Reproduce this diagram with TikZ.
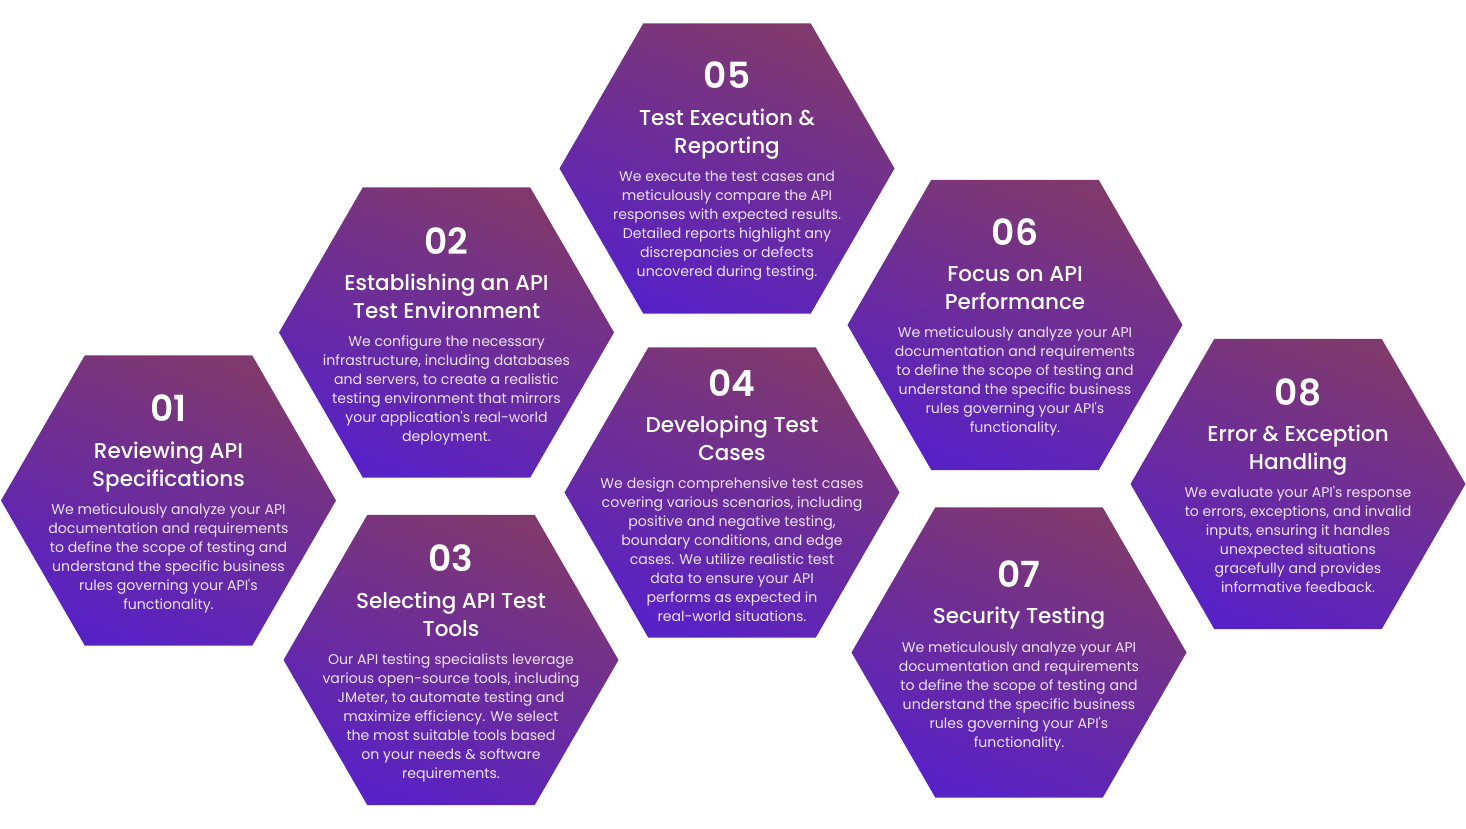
\documentclass[tikz,border=0pt]{standalone}
\usepackage{fontspec}
\setmainfont{Poppins}[Ligatures=TeXOff]
\newfontfamily\titlefont{Poppins Medium}[Ligatures=TeXOff]
\newfontfamily\numfont{Poppins SemiBold}[Ligatures=TeXOff]
\usetikzlibrary{shapes.geometric,positioning}
\definecolor{hextop}{RGB}{128,57,108}
\definecolor{hexbot}{RGB}{88,33,198}
\definecolor{bodytxt}{RGB}{236,226,246}
\tikzset{
  hexa/.style={regular polygon, regular polygon sides=6, shape border rotate=0,
    minimum size=335pt, inner sep=0pt, top color=hextop, bottom color=hexbot,
    shading angle=-22, draw=none},
  numsty/.style={inner sep=0pt, text=white, font=\numfont\fontsize{36}{42}\selectfont},
  titlesty/.style={inner sep=0pt, text=white, align=center, font=\titlefont\fontsize{21.5}{28}\selectfont},
  bodysty/.style={inner sep=0pt, text=bodytxt, align=center, font=\fontsize{14.1}{19}\selectfont},
}
\newcommand\hexblock[6]{%
  \node[hexa] (h#1) at (#2,#3) {};
  \node[numsty, anchor=base] (n#1) at (#2,#4) {\strut #1};
  \node[titlesty, below=3.8pt of n#1] (t#1) {\strut #5\strut};
  \node[bodysty, below=6.3pt of t#1] (b#1) {\strut #6};
}
\begin{document}
\begin{tikzpicture}[x=1pt,y=-1pt]
\useasboundingbox (0,0) rectangle (1466,829);
\hexblock{01}{168.5}{500.5}{421.7}{Reviewing API\\Specifications}{We meticulously analyze your API\\documentation and requirements\\to define the scope of testing and\\understand the specific business\\rules governing your API's\\functionality.}
\hexblock{02}{446.5}{332.5}{254}{Establishing an API\\Test Environment}{We configure the necessary\\infrastructure, including databases\\and servers, to create a realistic\\testing environment that mirrors\\your application's real-world\\deployment.}
\hexblock{03}{451}{660}{571.7}{Selecting API Test\\Tools}{Our API testing specialists leverage\\various open-source tools, including\\JMeter, to automate testing and\\maximize efficiency. We select\\the most suitable tools based\\on your needs \& software\\requirements.}
\hexblock{04}{732}{492.5}{396}{Developing Test\\Cases}{We design comprehensive test cases\\covering various scenarios, including\\positive and negative testing,\\boundary conditions, and edge\\cases. We utilize realistic test\\data to ensure your API\\performs as expected in\\real-world situations.}
\hexblock{05}{727}{168.5}{89}{Test Execution \&\\Reporting}{We execute the test cases and\\meticulously compare the API\\responses with expected results.\\Detailed reports highlight any\\discrepancies or defects\\uncovered during testing.}
\hexblock{06}{1015}{325}{245}{Focus on API\\Performance}{We meticulously analyze your API\\documentation and requirements\\to define the scope of testing and\\understand the specific business\\rules governing your API's\\functionality.}
\hexblock{07}{1019}{652.5}{587.3}{Security Testing}{We meticulously analyze your API\\documentation and requirements\\to define the scope of testing and\\understand the specific business\\rules governing your API's\\functionality.}
\hexblock{08}{1298}{484}{405}{Error \& Exception\\Handling}{We evaluate your API's response\\to errors, exceptions, and invalid\\inputs, ensuring it handles\\unexpected situations\\gracefully and provides\\informative feedback.}
\end{tikzpicture}
\end{document}
